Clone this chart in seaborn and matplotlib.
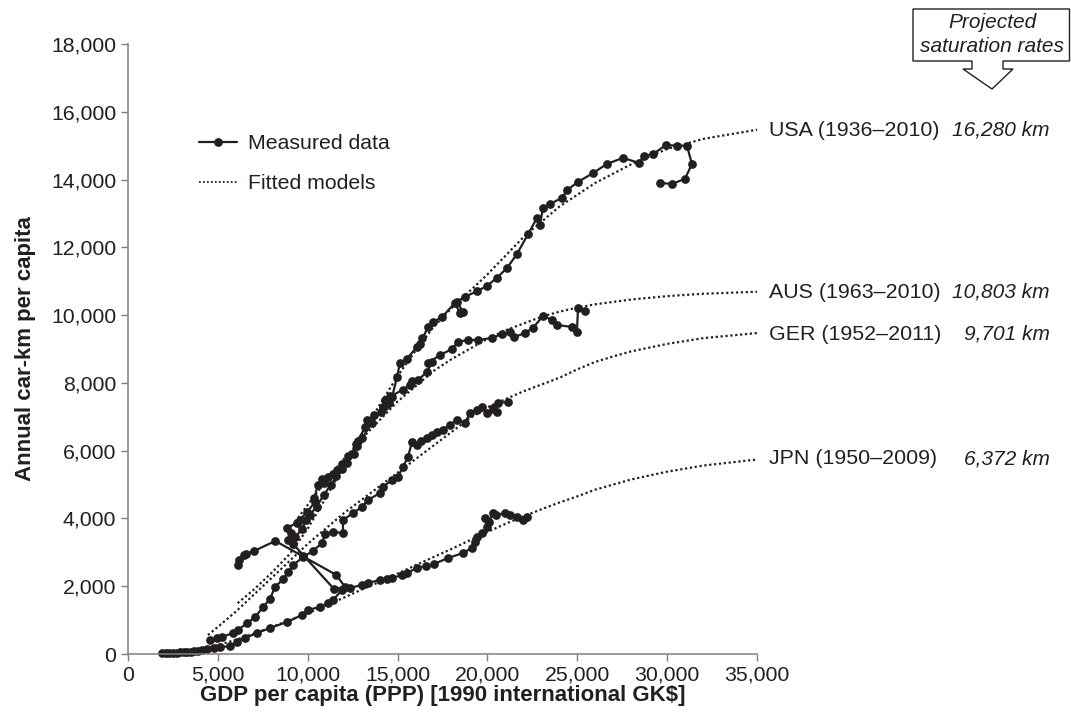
import matplotlib
matplotlib.use("Agg")
import matplotlib.pyplot as plt
import seaborn as sns
from matplotlib.lines import Line2D
from matplotlib.patches import Polygon
from matplotlib.ticker import FuncFormatter

# measured data: GDP per capita (1990 GK$) and annual car-km per capita
usa_gdp = [6200, 6430, 6130, 6560, 7010, 8200, 9740, 11600, 12070, 11460, 9180, 8890, 9070, 8850,
           9400, 9570, 9960, 10400, 10360, 10570, 10910, 11130, 10800, 11400, 11630, 11900, 12240,
           12770, 13020, 13580, 14190, 14330, 14690, 14970, 15130, 15500, 16080, 16360, 16250, 16690,
           16980, 17470, 18190, 18470, 18640, 18300, 18750, 19400, 19970, 20530, 21090, 21640, 22260,
           22760, 22920, 23090, 23480, 24150, 24430, 25040, 25870, 26650, 27540, 28430, 28710, 29210,
           29940, 30550, 31100, 31380, 30990, 30270, 29600]
usa_km = [2780, 2920, 2630, 2950, 3040, 3335, 2880, 2330, 1980, 1920, 3250, 3370, 3560, 3720,
          3870, 3960, 4190, 4480, 4600, 4990, 5050, 5220, 5150, 5300, 5430, 5600, 5850,
          6150, 6370, 6820, 7290, 7350, 7580, 8170, 8590, 8700, 9060, 9325, 9150, 9650,
          9800, 9940, 10360, 10060, 10090, 10400, 10540, 10700, 10860, 11100, 11390, 11800, 12390,
          12870, 12660, 13160, 13280, 13460, 13690, 13930, 14190, 14460, 14640, 14490, 14700, 14750,
          15020, 15000, 15000, 14460, 14020, 13870, 13900]

aus_gdp = [9300, 9700, 9900, 10100, 10500, 10900, 11300, 11600, 11900, 12200, 12600, 12700, 12800,
           13200, 13300, 13700, 14100, 14200, 14500, 14300, 14600, 15300, 15700, 15800, 16140, 16640,
           16910, 16690, 17360, 18030, 18360, 18920, 19470, 20250, 20810, 21250, 21480, 22090, 22530,
           23090, 23590, 23870, 24700, 24980, 25040, 25430]
aus_km = [3450, 3700, 3950, 4100, 4350, 4700, 5000, 5250, 5450, 5650, 5900, 6200, 6300,
          6700, 6900, 7050, 7150, 7250, 7400, 7500, 7600, 7800, 7950, 8050, 8090, 8320,
          8620, 8590, 8820, 9000, 9210, 9265, 9265, 9325, 9440, 9500, 9350, 9470, 9620,
          9975, 9860, 9710, 9650, 9500, 10210, 10120]

ger_gdp = [4560, 4950, 5230, 5840, 6120, 6620, 7070, 7520, 7900, 8180, 8630, 8930, 9200, 9740,
           10290, 10800, 10960, 11400, 11960, 11960, 12520, 13020, 13350, 14020, 14190, 14690, 15020,
           15300, 15580, 15800, 16080, 16300, 16640, 16900, 17190, 17500, 17920, 18300, 18750, 19030,
           19400, 19700, 19970, 20530, 20300, 20590, 21140]
ger_km = [410, 470, 500, 620, 710, 910, 1090, 1390, 1620, 1980, 2200, 2420, 2630, 2860,
          3040, 3275, 3540, 3600, 3570, 3950, 4160, 4340, 4545, 4750, 4930, 5135, 5225,
          5520, 5810, 6255, 6170, 6300, 6375, 6450, 6550, 6620, 6760, 6905, 6815, 7110,
          7200, 7290, 7110, 7140, 7250, 7405, 7440]

jpn_gdp = [1900, 2100, 2300, 2500, 2700, 2900, 3100, 3300, 3500, 3700, 3900, 4120, 4400, 4800,
           5120, 5680, 6060, 6510, 7180, 7900, 8850, 9680, 10020, 10680, 11130, 11410, 11910, 12350,
           13020, 13350, 14020, 14410, 14690, 15250, 15520, 16080, 16600, 17000, 17800, 18640, 19140,
           19310, 19420, 19700, 19970, 19850, 20100, 20310, 20500, 20980, 21250, 21640, 21980, 22200]
jpn_km = [20, 25, 30, 35, 40, 45, 50, 60, 70, 80, 95, 118, 160, 190,
          207, 230, 354, 472, 620, 767, 944, 1150, 1300, 1390, 1505, 1595, 1890, 1950,
          2036, 2095, 2185, 2213, 2243, 2330, 2390, 2540, 2600, 2650, 2830, 2980, 3130,
          3300, 3450, 3570, 3750, 4000, 3900, 4160, 4100, 4160, 4100, 4040, 3950, 4040]

# fitted models
usa_fit_gdp = [6100, 7000, 8000, 9000, 10000, 11000, 12000, 13000, 14000, 15000, 16000, 17000, 18000,
               19000, 20000, 22000, 24000, 26000, 28000, 30000, 32000, 35000]
usa_fit_km = [1500, 1900, 2400, 2950, 3700, 4600, 5550, 6450, 7350, 8200, 8950, 9650, 10200,
              10700, 11200, 12300, 13200, 13900, 14450, 14900, 15200, 15470]
aus_fit_gdp = [9300, 10000, 11000, 12000, 13000, 14000, 15000, 16000, 17000, 18000, 19000, 20000,
               21000, 22000, 23000, 24000, 25000, 26000, 28000, 30000, 32000, 35000]
aus_fit_km = [3900, 4400, 5100, 5750, 6350, 6900, 7450, 7900, 8350, 8700, 9000, 9300,
              9550, 9750, 9950, 10100, 10220, 10320, 10460, 10560, 10630, 10690]
ger_fit_gdp = [4450, 5000, 6000, 7000, 8000, 9000, 10000, 11000, 12000, 13000, 14000, 15000, 16000,
               17000, 18000, 19000, 20000, 21000, 22000, 23000, 24000, 25000, 26000, 27000, 28000,
               30000, 32000, 35000]
ger_fit_km = [560, 800, 1250, 1750, 2250, 2750, 3250, 3700, 4150, 4550, 4950, 5350, 5750,
              6150, 6550, 6950, 7280, 7520, 7750, 7950, 8150, 8400, 8620, 8780, 8930,
              9150, 9320, 9470]
jpn_fit_gdp = [1900, 3000, 4000, 5000, 6000, 7000, 8000, 9000, 10000, 11000, 12000, 13000, 14000,
               15000, 16000, 17000, 18000, 19000, 20000, 21000, 22000, 23000, 24000, 25000, 26000,
               28000, 30000, 32000, 35000]
jpn_fit_km = [0, 50, 130, 260, 420, 600, 800, 1000, 1200, 1430, 1660, 1900, 2130,
              2370, 2620, 2860, 3100, 3350, 3600, 3840, 4060, 4270, 4470, 4650, 4850,
              5150, 5380, 5560, 5740]

labels = ["USA (1936\u20132010)", "AUS (1963\u20132010)", "GER (1952\u20132011)", "JPN (1950\u20132009)"]
saturation = ["16,280 km", "10,803 km", "9,701 km", "6,372 km"]
label_y_px = [130, 292, 334, 459]

ink = "#231f20"

sns.set_style("ticks")
plt.rcParams["font.family"] = ["Liberation Sans", "DejaVu Sans"]

fig = plt.figure(figsize=(10.71, 7.22), dpi=100)
ax = fig.add_axes([128 / 1071, 1 - 654 / 722, 629 / 1071, 610 / 722])

# fitted curves
for gx, gy in [(usa_fit_gdp, usa_fit_km), (aus_fit_gdp, aus_fit_km),
               (ger_fit_gdp, ger_fit_km), (jpn_fit_gdp, jpn_fit_km)]:
    sns.lineplot(x=gx, y=gy, sort=False, estimator=None, ax=ax, color=ink,
                 lw=1.6, linestyle=(0, (1, 1.2)), clip_on=False)

# measured tracks
for gx, gy in [(usa_gdp, usa_km), (aus_gdp, aus_km), (ger_gdp, ger_km), (jpn_gdp, jpn_km)]:
    sns.lineplot(x=gx, y=gy, sort=False, estimator=None, ax=ax, color=ink, lw=1.6,
                 marker="o", markersize=6.3, markeredgewidth=0, clip_on=False)

ax.set_xlim(0, 35000)
ax.set_ylim(0, 18000)
ax.set_xticks(range(0, 35001, 5000))
ax.set_yticks(range(0, 18001, 2000))
fmt = FuncFormatter(lambda v, p: f"{v:,.0f}")
ax.xaxis.set_major_formatter(fmt)
ax.yaxis.set_major_formatter(fmt)
ax.tick_params(labelsize=15.3, colors="#808080", labelcolor=ink, length=5, width=1)
for s in ["left", "bottom"]:
    ax.spines[s].set_color("#808080")
    ax.spines[s].set_linewidth(1.1)
sns.despine(ax=ax)

ax.set_xlabel("GDP per capita (PPP) [1990 international GK$]", fontsize=16,
              fontweight="bold", color=ink, labelpad=0)
ax.set_ylabel("Annual car-km per capita", fontsize=16, fontweight="bold", color=ink, labelpad=11)

# legend
handles = [Line2D([], [], color=ink, lw=1.6, marker="o", markersize=6.3, markeredgewidth=0),
           Line2D([], [], color=ink, lw=1.3, linestyle=(0, (1, 1.2)))]
ax.legend(handles, ["Measured data", "Fitted models"], loc="upper left",
          bbox_to_anchor=(199 / 1071, 1 - 134 / 722), bbox_transform=fig.transFigure,
          frameon=False, fontsize=15.3, handlelength=1.8, handletextpad=0.5,
          labelspacing=1.0, borderpad=0, borderaxespad=0, labelcolor=ink)

# country labels and saturation levels
for lab, sat, py in zip(labels, saturation, label_y_px):
    fig.text(769 / 1071, 1 - py / 722, lab, fontsize=15.4, color=ink, ha="left", va="center")
    fig.text(1050 / 1071, 1 - py / 722, sat, fontsize=15, color=ink, ha="right", va="center",
             style="italic")

# projected saturation callout
box_px = [(913, 9), (1069.5, 9), (1069.5, 61), (1003, 61), (1003, 69), (1013, 69), (992, 89),
          (963, 69), (972, 69), (972, 61), (913, 61)]
poly = Polygon([(x / 1071, 1 - y / 722) for x, y in box_px], closed=True, fill=False,
               edgecolor=ink, lw=1.0, transform=fig.transFigure)
fig.patches.append(poly)
fig.text(992 / 1071, 1 - 22 / 722, "Projected", fontsize=15, style="italic", color=ink,
         ha="center", va="center")
fig.text(992 / 1071, 1 - 46 / 722, "saturation rates", fontsize=15, style="italic", color=ink,
         ha="center", va="center")

fig.savefig("out.png", dpi=100)
